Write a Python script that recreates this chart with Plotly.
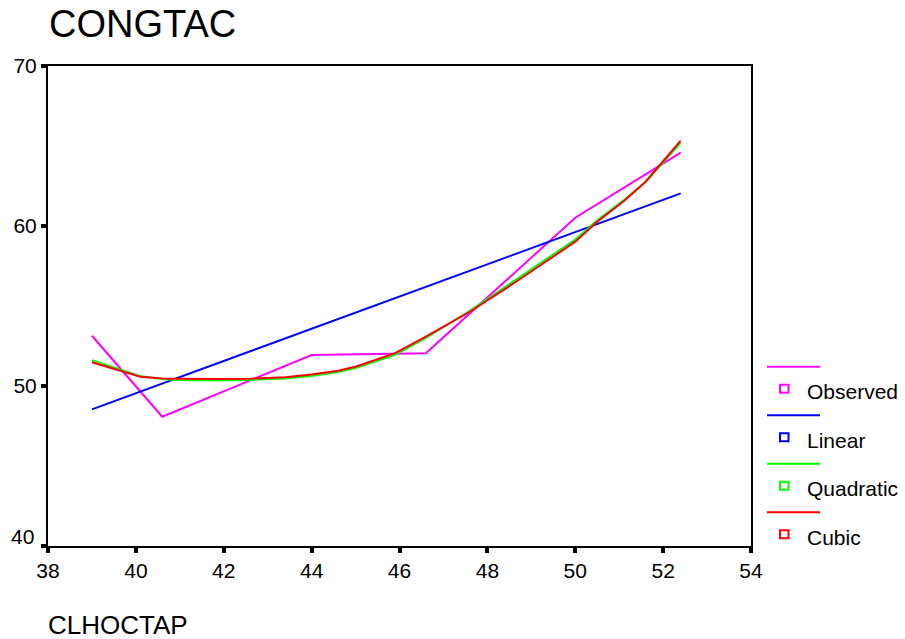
import plotly.graph_objects as go

# Observed CONGTAC against CLHOCTAP
obs_x = [39.0, 40.6, 44.0, 46.6, 50.0, 52.4]
obs_y = [53.14, 48.08, 51.94, 52.04, 60.52, 64.58]

# Fitted curves evaluated along CLHOCTAP
fit_x = [39.0, 40.1, 40.6, 40.9, 41.8, 42.6, 43.4, 44.0, 44.6, 45.0,
         45.9, 46.6, 47.6, 48.6, 50.0, 50.5, 51.1, 51.6, 52.4]
linear_y = [48.54, 49.65, 50.15, 50.45, 51.36, 52.17, 52.97, 53.58, 54.18, 54.59,
            55.49, 56.20, 57.20, 58.21, 59.62, 60.12, 60.73, 61.23, 62.04]
quadratic_y = [51.62, 50.62, 50.43, 50.37, 50.35, 50.38, 50.47, 50.63, 50.88, 51.12,
               51.95, 53.00, 54.70, 56.55, 59.15, 60.35, 61.60, 62.75, 65.20]
cubic_y = [51.48, 50.58, 50.47, 50.45, 50.44, 50.46, 50.55, 50.72, 50.95, 51.20,
           52.05, 53.08, 54.64, 56.42, 59.02, 60.27, 61.55, 62.77, 65.33]

series_names = ["Observed", "Linear", "Quadratic", "Cubic"]
series_colors = ["#FF00FF", "#0000FF", "#00FF00", "#FF0000"]

x_ticks = [38, 40, 42, 44, 46, 48, 50, 52, 54]
y_ticks = [40, 50, 60, 70]

W, H = 905, 639
L, R, T, B = 48, 154, 66, 93
PW, PH = W - L - R, H - T - B
FONT = "Liberation Sans, Arial, sans-serif"


def px(xp):
    return (xp - L) / PW


def py(yp):
    return (H - B - yp) / PH


fig = go.Figure()
for xs, ys, name, color in zip([obs_x, fit_x, fit_x, fit_x],
                               [obs_y, linear_y, quadratic_y, cubic_y],
                               series_names, series_colors):
    fig.add_trace(go.Scatter(x=xs, y=ys, mode="lines", name=name,
                             line=dict(color=color, width=2),
                             showlegend=False, hoverinfo="skip"))

# Legend: a line sample above each open square and its label
shapes = []
annotations = []
for i, (name, color) in enumerate(zip(series_names, series_colors)):
    line_y = 366.7 + 48.5 * i
    mark_y = line_y + 22
    shapes.append(dict(type="line", xref="paper", yref="paper",
                       x0=px(767), x1=px(820), y0=py(line_y), y1=py(line_y),
                       line=dict(color=color, width=2)))
    shapes.append(dict(type="rect", xref="paper", yref="paper",
                       x0=px(780), x1=px(788.5), y0=py(mark_y - 4), y1=py(mark_y + 4),
                       line=dict(color=color, width=2), fillcolor="rgba(0,0,0,0)"))
    annotations.append(dict(text=name, xref="paper", yref="paper",
                            x=px(805), y=py(mark_y + 3), xanchor="left", yanchor="middle",
                            showarrow=False, font=dict(family=FONT, size=21, color="black")))

annotations.append(dict(text="CONGTAC", xref="paper", yref="paper",
                        x=px(47), y=py(24), xanchor="left", yanchor="middle",
                        showarrow=False, font=dict(family=FONT, size=38, color="black")))
annotations.append(dict(text="CLHOCTAP", xref="paper", yref="paper",
                        x=px(46), y=py(625), xanchor="left", yanchor="middle",
                        showarrow=False, font=dict(family=FONT, size=26, color="black")))
# lowest y label sits a little above its tick
annotations.append(dict(text="40", xref="paper", yref="y",
                        x=px(36), y=40, xanchor="right", yanchor="middle", yshift=10,
                        showarrow=False, font=dict(family=FONT, size=21, color="black")))

fig.update_layout(
    width=W, height=H,
    margin=dict(l=L, r=R, t=T, b=B),
    paper_bgcolor="white", plot_bgcolor="white",
    font=dict(family=FONT, size=21, color="black"),
    shapes=shapes, annotations=annotations,
    showlegend=False,
)
fig.update_xaxes(range=[38, 54], tickvals=x_ticks, ticks="outside", ticklen=5, tickwidth=4,
                 tickcolor="black", showline=True, linecolor="black", linewidth=2,
                 mirror=True, showgrid=False, zeroline=False,
                 tickfont=dict(family=FONT, size=21, color="black"))
fig.update_yaxes(range=[40, 70], tickvals=y_ticks, ticktext=["", "50", "60", "70"],
                 ticks="outside", ticklen=5, tickwidth=4,
                 tickcolor="black", showline=True, linecolor="black", linewidth=2,
                 mirror=True, showgrid=False, zeroline=False,
                 tickfont=dict(family=FONT, size=21, color="black"))

fig.write_html("out.html")
